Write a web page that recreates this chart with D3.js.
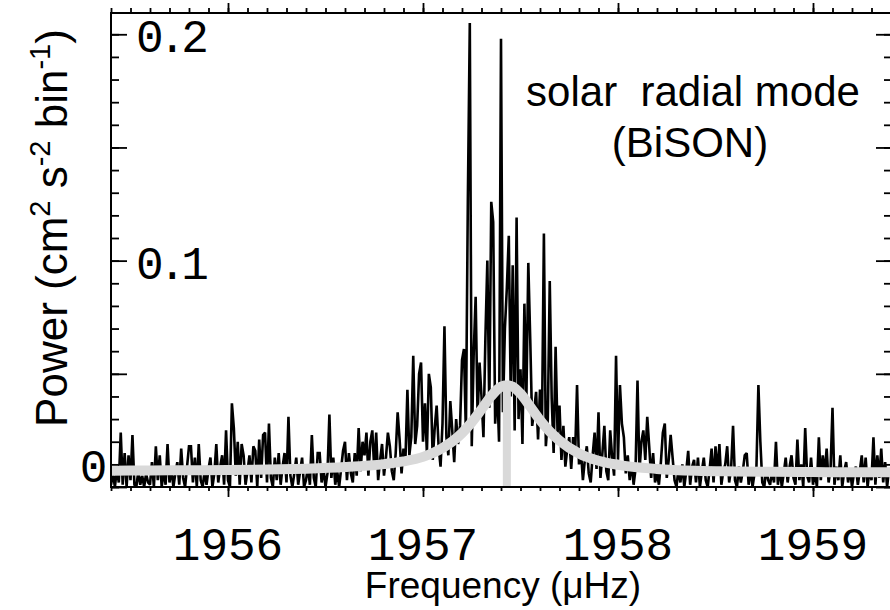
<!DOCTYPE html>
<html><head><meta charset="utf-8">
<script src="https://cdn.jsdelivr.net/npm/d3@7"></script>
<style>body{margin:0;background:#fff}</style>
</head><body>
<svg id="chart" width="890" height="610" xmlns="http://www.w3.org/2000/svg"></svg>
<script>
// ---- data (power in units of 1e-3 cm^2 s^-2 bin^-1) ----
const binStart = 1955.40;   // μHz, first bin
const binWidth = 0.01;      // μHz
const power = [
 1,6,0,8,2,24,1,15,0,14,3,23,1,0,7,1,5,0,6,2,
 1,11,0,18,3,14,0,7,1,19,2,8,0,6,11,1,17,4,0,9,
 18,18,2,13,0,19,3,0,7,1,8,13,0,6,19,2,9,14,1,25,
 3,0,37,26,5,20,1,19,14,1,7,14,2,18,16,0,21,4,23,24,
 2,28,4,0,13,3,15,1,9,15,2,31,5,0,6,13,1,7,13,0,
 3,9,1,23,4,0,15,15,2,8,0,6,32,4,13,1,7,0,8,16,
 20,3,15,6,2,15,5,26,7,20,14,24,5,20,25,8,24,3,12,19,
 5,13,24,18,7,3,15,33,21,6,17,12,43,14,22,58,19,27,50,55,
 20,37,15,50,44,12,26,36,18,9,28,71,22,14,38,25,11,30,19,27,
 56,61,24,127,205,18,59,84,31,55,40,22,66,100,35,126,117,28,45,20,
 198,33,70,88,111,40,98,25,119,30,52,19,81,38,99,65,27,34,42,21,
 43,26,112,18,30,91,39,15,62,24,36,12,27,9,17,22,8,22,14,45,
 10,16,3,12,18,6,2,14,24,8,33,4,15,27,7,3,25,13,5,58,
 12,45,28,22,6,14,3,11,1,8,47,7,20,25,12,31,18,4,15,2,
 6,1,11,24,28,4,12,23,13,3,0,8,2,10,0,7,16,1,9,12,
 2,13,0,7,13,3,0,8,17,2,18,6,19,1,7,10,18,2,8,27,
 3,0,9,2,7,14,15,1,8,0,6,9,45,20,2,0,8,3,1,7,
 2,20,1,8,0,6,13,2,9,14,4,1,21,3,10,0,26,5,2,13,
 1,7,0,22,3,14,6,17,2,8,35,1,9,3,14,0,7,11,2,8,
 0,6,9,1,7,14,2,13,0,8,3,22,1,14,4,17,2,11,0,8
];
// fitted profile
const fitFreq  = [1955.4,1955.6,1955.8,1956.0,1956.2,1956.4,1956.6,1956.8,1956.9,1957.0,1957.1,1957.2,1957.25,1957.3,1957.35,1957.4,1957.43,1957.46,1957.5,1957.55,1957.6,1957.65,1957.7,1957.8,1957.9,1958.0,1958.2,1958.4,1958.6,1958.8,1959.0,1959.2,1959.4];
const fitPower = [7.2,7.3,7.4,7.5,7.7,8.1,8.8,10.1,11.3,13.3,17.2,23.8,28.6,34.3,40.2,44.3,45.0,44.3,41.2,35.5,29.6,24.5,20.5,14.8,11.6,9.8,8.0,7.2,6.9,6.7,6.6,6.5,6.5];
const modeFreq = 1957.43;
const modePeak = 45.0;

const xMajorTicks = [1956, 1957, 1958, 1959];
const xTickLabels = ["1956", "1957", "1958", "1959"];
const yMajorTicks = [0, 50, 100, 150, 200];
const yLabelValues = [0, 100, 200];
const yTickLabels = ["0", "0.1", "0.2"];
const xTitle = "Frequency (\u03BCHz)";
const note1 = "solar  radial mode";
const note2 = "(BiSON)";

// ---- layout ----
const L = 111, R = 891, T = 13, B = 487;
const svg = d3.select("#chart");
const x = d3.scaleLinear().domain([1955.4, 1959.4]).range([L, R]);
const y = d3.scaleLinear().domain([0, 209.4]).range([B, T]);

svg.append("defs").append("clipPath").attr("id", "plot")
  .append("rect").attr("x", L).attr("y", T).attr("width", R - L).attr("height", B - T);

const spec = power.map((v, i) => [binStart + i * binWidth, v]);
const g = svg.append("g").attr("clip-path", "url(#plot)");
g.append("path").datum(spec)
  .attr("fill", "none").attr("stroke", "#000").attr("stroke-width", 2.6)
  .attr("stroke-linejoin", "miter").attr("stroke-miterlimit", 2)
  .attr("d", d3.line().x(d => x(d[0])).y(d => y(d[1])));

const fit = fitFreq.map((f, i) => [f, fitPower[i]]);
g.append("path").datum(fit)
  .attr("fill", "none").attr("stroke", "#d9d9d9").attr("stroke-width", 10)
  .attr("d", d3.line().curve(d3.curveMonotoneX).x(d => x(d[0])).y(d => y(d[1])));
g.append("line")
  .attr("x1", x(modeFreq)).attr("x2", x(modeFreq))
  .attr("y1", y(modePeak)).attr("y2", y(0))
  .attr("stroke", "#d9d9d9").attr("stroke-width", 8);

// ---- axes ----
const xMinor = x.ticks(40);
const yMinor = y.ticks(20);
function ax(axisFn, scale, vals, size, tx, ty) {
  const a = svg.append("g").attr("transform", `translate(${tx},${ty})`)
    .call(axisFn(scale).tickValues(vals).tickSize(size).tickSizeOuter(0).tickFormat(""));
  a.select(".domain").remove();
  a.selectAll("line").attr("stroke", "#000").attr("stroke-width", 1.8);
}
ax(d3.axisTop, x, xMinor, 5, 0, T);
ax(d3.axisTop, x, xMajorTicks, 10, 0, T);
ax(d3.axisBottom, x, xMinor, 4, 0, B);
ax(d3.axisBottom, x, xMajorTicks, 10, 0, B);
ax(d3.axisRight, y, yMinor, 8, L, 0);
ax(d3.axisRight, y, yMajorTicks, 16, L, 0);
ax(d3.axisLeft, y, yMinor, 7, R, 0);
ax(d3.axisLeft, y, yMajorTicks, 15, R, 0);

svg.append("rect").attr("x", L).attr("y", T).attr("width", R - L).attr("height", B - T)
  .attr("fill", "none").attr("stroke", "#000").attr("stroke-width", 2);

// tick labels
const tickFont = "'Liberation Mono', monospace";
svg.append("g").selectAll("text").data(xMajorTicks).join("text")
  .attr("x", d => x(d)).attr("y", 560)
  .attr("text-anchor", "middle").attr("font-family", tickFont).attr("font-size", 46)
  .text((d, i) => xTickLabels[i]);

svg.append("g").selectAll("text").data(yLabelValues).join("text")
  .attr("x", d => d === 0 ? 91 : 136)
  .attr("y", d => d === 0 ? y(d) - 5 : y(d) + 18)
  .attr("text-anchor", d => d === 0 ? "middle" : "start")
  .attr("font-family", tickFont).attr("font-size", 46).attr("letter-spacing", -5)
  .text((d, i) => yTickLabels[i]);

// titles
const sans = "'Liberation Sans', Arial, sans-serif";
svg.append("text").attr("x", 503).attr("y", 598).attr("text-anchor", "middle")
  .attr("font-family", sans).attr("font-size", 37).text(xTitle);

const yt = svg.append("text").attr("transform", "translate(67,228) rotate(-90)")
  .attr("text-anchor", "middle").attr("font-family", sans).attr("font-size", 44);
yt.append("tspan").text("Power (cm");
yt.append("tspan").attr("font-size", 29).attr("dy", -17).text("2");
yt.append("tspan").attr("dy", 17).text(" s");
yt.append("tspan").attr("font-size", 29).attr("dy", -17).text("-2");
yt.append("tspan").attr("dy", 17).text(" bin");
yt.append("tspan").attr("font-size", 29).attr("dy", -17).text("-1");
yt.append("tspan").attr("dy", 17).text(")");

svg.append("text").attr("x", 693).attr("y", 106).attr("text-anchor", "middle")
  .attr("font-family", sans).attr("font-size", 42).style("white-space", "pre").text(note1);
svg.append("text").attr("x", 690).attr("y", 157).attr("text-anchor", "middle")
  .attr("font-family", sans).attr("font-size", 42).text(note2);
</script>
</body></html>
